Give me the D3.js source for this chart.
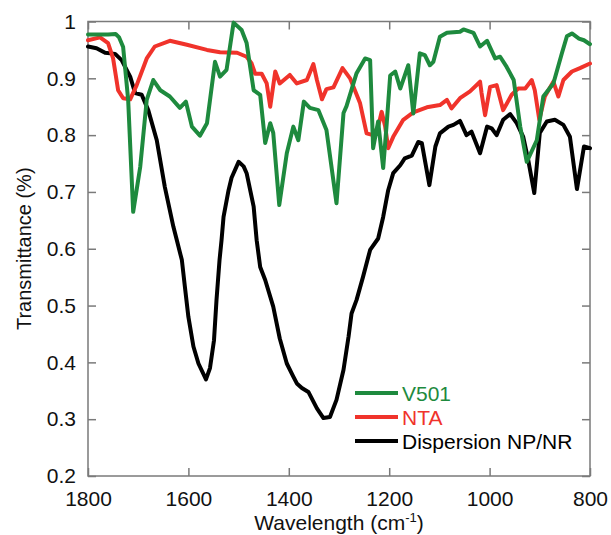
<!DOCTYPE html>
<html>
<head>
<meta charset="utf-8">
<script src="https://cdn.jsdelivr.net/npm/d3@7"></script>
<style>
  body { margin: 0; background: #fff; }
  text { font-family: "Liberation Sans", Arial, sans-serif; }
</style>
</head>
<body>
<div id="chart"></div>
<script>
// spectra: [wavenumber, transmittance]
const v501 = [
  [1800,0.977],[1760,0.977],[1745,0.978],[1738,0.972],[1730,0.955],[1720,0.862],[1710,0.665],
  [1696,0.744],[1683,0.862],[1670,0.897],[1656,0.879],[1637,0.868],[1617,0.848],[1605,0.859],
  [1593,0.815],[1577,0.799],[1563,0.821],[1547,0.929],[1537,0.903],[1524,0.915],[1510,0.998],
  [1494,0.985],[1484,0.962],[1470,0.879],[1457,0.871],[1447,0.786],[1437,0.821],[1431,0.804],
  [1419,0.677],[1404,0.768],[1391,0.815],[1381,0.791],[1370,0.859],[1358,0.848],[1341,0.844],
  [1325,0.809],[1305,0.680],[1291,0.839],[1285,0.851],[1265,0.909],[1248,0.935],[1238,0.932],
  [1232,0.777],[1222,0.824],[1212,0.742],[1205,0.82],[1198,0.905],[1188,0.912],[1178,0.882],
  [1162,0.923],[1152,0.838],[1139,0.944],[1129,0.941],[1119,0.923],[1112,0.929],[1099,0.973],
  [1085,0.980],[1059,0.982],[1052,0.986],[1032,0.980],[1019,0.956],[1005,0.966],[989,0.935],
  [979,0.938],[966,0.920],[952,0.897],[939,0.815],[926,0.753],[906,0.791],[893,0.868],
  [873,0.891],[856,0.944],[846,0.974],[836,0.979],[822,0.970],[812,0.967],[800,0.960]
];

const nta = [
  [1800,0.967],[1776,0.972],[1760,0.962],[1750,0.935],[1740,0.879],[1730,0.865],[1716,0.863],
  [1703,0.888],[1683,0.935],[1667,0.956],[1637,0.966],[1603,0.959],[1563,0.950],[1537,0.946],
  [1503,0.945],[1484,0.938],[1474,0.926],[1467,0.908],[1454,0.908],[1444,0.891],[1437,0.850],
  [1427,0.912],[1418,0.891],[1398,0.906],[1384,0.891],[1364,0.897],[1351,0.925],[1344,0.897],
  [1334,0.863],[1325,0.881],[1311,0.884],[1293,0.918],[1278,0.900],[1258,0.856],[1245,0.803],
  [1232,0.800],[1222,0.815],[1215,0.841],[1208,0.815],[1202,0.777],[1192,0.797],[1172,0.827],
  [1152,0.840],[1125,0.849],[1099,0.853],[1085,0.862],[1076,0.847],[1059,0.865],[1039,0.877],
  [1019,0.894],[1016,0.874],[1009,0.835],[999,0.885],[986,0.888],[973,0.844],[956,0.871],
  [943,0.882],[929,0.882],[916,0.897],[910,0.879],[901,0.827],[890,0.868],[873,0.894],
  [863,0.868],[853,0.897],[836,0.912],[820,0.918],[800,0.926]
];

const dispersion = [
  [1800,0.956],[1783,0.953],[1766,0.945],[1746,0.943],[1733,0.932],[1716,0.903],[1706,0.874],
  [1693,0.871],[1680,0.844],[1663,0.791],[1647,0.709],[1630,0.639],[1623,0.615],[1613,0.580],
  [1607,0.533],[1600,0.480],[1590,0.428],[1580,0.398],[1565,0.370],[1557,0.390],[1549,0.439],
  [1544,0.510],[1538,0.580],[1534,0.615],[1530,0.656],[1520,0.703],[1514,0.725],[1500,0.753],
  [1490,0.745],[1484,0.733],[1470,0.674],[1464,0.615],[1457,0.568],[1447,0.545],[1431,0.498],
  [1418,0.442],[1404,0.398],[1391,0.375],[1384,0.363],[1374,0.355],[1361,0.348],[1344,0.319],
  [1331,0.302],[1318,0.304],[1305,0.334],[1291,0.387],[1281,0.445],[1275,0.486],[1265,0.510],
  [1252,0.551],[1238,0.598],[1222,0.618],[1212,0.656],[1202,0.703],[1192,0.733],[1178,0.747],
  [1169,0.759],[1155,0.764],[1142,0.788],[1135,0.786],[1120,0.712],[1108,0.780],[1099,0.803],
  [1082,0.815],[1072,0.818],[1059,0.825],[1046,0.800],[1036,0.806],[1019,0.768],[1005,0.815],
  [996,0.812],[986,0.800],[973,0.827],[959,0.837],[946,0.821],[933,0.797],[923,0.756],
  [911,0.698],[900,0.804],[886,0.824],[870,0.827],[853,0.818],[840,0.797],[826,0.705],
  [812,0.780],[800,0.777]
];

const xTicks = [1800, 1600, 1400, 1200, 1000, 800];
const yTicks = [0.2, 0.3, 0.4, 0.5, 0.6, 0.7, 0.8, 0.9, 1];

const series = [
  { name: "V501", values: v501, color: "#1e8a3e" },
  { name: "NTA", values: nta, color: "#f0332b" },
  { name: "Dispersion NP/NR", values: dispersion, color: "#000000" }
];

const width = 611, height = 535;
const margin = { top: 21.5, right: 21, bottom: 59, left: 88 };
const innerW = width - margin.left - margin.right;
const innerH = height - margin.top - margin.bottom;
const axisColor = "#7a7a7a";

const x = d3.scaleLinear().domain([1800, 800]).range([0, innerW]);
const y = d3.scaleLinear().domain([0.2, 1]).range([innerH, 0]);

const svg = d3.select("#chart").append("svg")
  .attr("width", width)
  .attr("height", height);

const g = svg.append("g")
  .attr("transform", `translate(${margin.left},${margin.top})`);

// frame
g.append("rect")
  .attr("width", innerW)
  .attr("height", innerH)
  .attr("fill", "none")
  .attr("stroke", axisColor)
  .attr("stroke-width", 1.5);

// axes, ticks pointing inward
const styleAxis = (sel) => {
  sel.select(".domain").remove();
  sel.selectAll(".tick line").attr("stroke", axisColor).attr("stroke-width", 1.5);
  sel.selectAll(".tick text").attr("fill", "#111").style("font-size", "21px");
};

g.append("g")
  .attr("transform", `translate(0,${innerH})`)
  .call(d3.axisBottom(x).tickValues(xTicks).tickSizeInner(-8).tickPadding(15).tickFormat(d3.format("d")))
  .call(styleAxis);

g.append("g")
  .call(d3.axisTop(x).tickValues(xTicks).tickSizeInner(-8).tickFormat(""))
  .call(styleAxis);

g.append("g")
  .call(d3.axisLeft(y).tickValues(yTicks).tickSizeInner(-8).tickPadding(12).tickFormat((d) => d === 1 ? "1" : d3.format(".1f")(d)))
  .call(styleAxis);

g.append("g")
  .attr("transform", `translate(${innerW},0)`)
  .call(d3.axisRight(y).tickValues(yTicks).tickSizeInner(-8).tickFormat(""))
  .call(styleAxis);

// spectra
const line = d3.line()
  .x((d) => x(d[0]))
  .y((d) => y(d[1]));

g.append("g")
  .selectAll("path")
  .data(series.slice().reverse())
  .join("path")
  .attr("d", (d) => line(d.values))
  .attr("fill", "none")
  .attr("stroke", (d) => d.color)
  .attr("stroke-width", 4)
  .attr("stroke-linejoin", "round")
  .attr("stroke-linecap", "round");

// legend
const legend = svg.append("g").attr("transform", "translate(355,393)");
const item = legend.selectAll("g")
  .data(series)
  .join("g")
  .attr("transform", (d, i) => `translate(0,${i * 24})`);
item.append("line")
  .attr("x1", 0).attr("x2", 43)
  .attr("stroke", (d) => d.color)
  .attr("stroke-width", 4);
item.append("text")
  .attr("x", 47)
  .attr("y", 7.5)
  .attr("fill", (d) => d.color)
  .style("font-size", "21px")
  .text((d) => d.name);

// axis titles
const xTitle = svg.append("text")
  .attr("x", margin.left + innerW / 2)
  .attr("y", 530)
  .attr("text-anchor", "middle")
  .attr("fill", "#111")
  .style("font-size", "21px");
xTitle.append("tspan").text("Wavelength (cm");
xTitle.append("tspan").attr("dy", -8).style("font-size", "13px").text("-1");
xTitle.append("tspan").attr("dy", 8).text(")");

svg.append("text")
  .attr("transform", `translate(31,${margin.top + innerH / 2}) rotate(-90)`)
  .attr("text-anchor", "middle")
  .attr("fill", "#111")
  .style("font-size", "20px")
  .text("Transmittance (%)");
</script>
</body>
</html>
